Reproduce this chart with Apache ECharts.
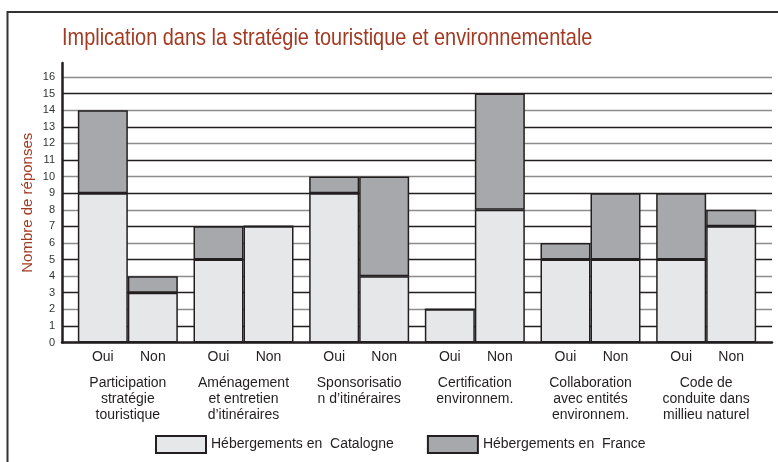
<!DOCTYPE html>
<html>
<head>
<meta charset="utf-8">
<script src="https://cdn.jsdelivr.net/npm/echarts@6/dist/echarts.min.js"></script>
<style>
html,body{margin:0;padding:0;background:#fff;}
#chart{width:778px;height:462px;}
</style>
</head>
<body>
<div id="chart"></div>
<script>
const groups = [
  'Participation\nstratégie\ntouristique',
  'Aménagement\net entretien\nd\u2019itinéraires',
  'Sponsorisatio\nn d\u2019itinéraires',
  'Certification\nenvironnem.',
  'Collaboration\navec entités\nenvironnem.',
  'Code de\nconduite dans\nmillieu naturel'
];
const answers = ['Oui', 'Non'];
const catalogneOui = [9, 5, 9, 2, 5, 5];
const franceOui    = [5, 2, 1, 0, 1, 4];
const catalogneNon = [3, 7, 4, 8, 5, 7];
const franceNon    = [1, 0, 6, 7, 4, 1];
const yTicks = [0, 16, 1];
const nameCat = 'Hébergements en  Catalogne';
const nameFr = 'Hébergements en  France';
const titleText = 'Implication dans la stratégie touristique et environnementale';

const FONT = 'Liberation Sans, Arial, sans-serif';
const RED = '#a33a22';
const DARK = '#231f20';
const colCat = '#e6e7e9';
const colFr = '#a7a8ab';

const chart = echarts.init(document.getElementById('chart'));
const bottom = 119.5;
const barStyle = (c) => ({ color: c, borderColor: DARK, borderWidth: 1.5 });

chart.setOption({
  animation: false,
  backgroundColor: '#fff',
  graphic: [{
    type: 'rect', shape: { x: 7.5, y: 12, width: 900, height: 600 },
    style: { fill: 'none', stroke: '#333', lineWidth: 2 }, silent: true
  }, {
    type: 'text', x: 62, y: 26, scaleX: 0.83, silent: true,
    style: { text: titleText, fontFamily: FONT, fontSize: 24, fill: RED, textVerticalAlign: 'top' }
  }],
  legend: {
    data: [nameCat, nameFr],
    left: 150, top: 430, icon: 'rect',
    itemWidth: 50, itemHeight: 17, itemGap: 33,
    textStyle: { fontFamily: FONT, fontSize: 14, color: DARK }
  },
  grid: [
    { left: 62, right: 6, top: 63, bottom: bottom },
    { left: 62, right: 6, top: 77, bottom: bottom },
    { left: 70, right: 14, top: 77, bottom: bottom }
  ],
  xAxis: [
    { gridIndex: 0, type: 'category', data: groups, show: false },
    { gridIndex: 1, type: 'category', data: groups,
      axisLine: { show: true, lineStyle: { color: DARK, width: 2.5 } },
      axisTick: { show: false }, axisLabel: { show: false }, splitLine: { show: false } },
    { gridIndex: 2, type: 'category', data: groups,
      axisLine: { show: false }, axisTick: { show: false }, splitLine: { show: false },
      axisLabel: {
        margin: 8, interval: 0,
        formatter: () => '{a|' + answers[0] + '}{b|' + answers[1] + '}',
        rich: {
          a: { width: 50, align: 'center', fontFamily: FONT, fontSize: 14, color: DARK },
          b: { width: 50, align: 'center', fontFamily: FONT, fontSize: 14, color: DARK }
        }
      } },
    { gridIndex: 2, type: 'category', data: groups, position: 'bottom',
      axisLine: { show: false }, axisTick: { show: false }, splitLine: { show: false },
      axisLabel: { margin: 33, interval: 0, fontFamily: FONT, fontSize: 14, lineHeight: 16, color: DARK } }
  ],
  yAxis: [
    { gridIndex: 0, type: 'value', min: 0, max: 16.84,
      axisLine: { show: true, lineStyle: { color: DARK, width: 2.5 } },
      axisTick: { show: false }, axisLabel: { show: false }, splitLine: { show: false },
      name: 'Nombre de réponses', nameLocation: 'middle', nameGap: 27, nameRotate: 90,
      nameTextStyle: { fontFamily: FONT, fontSize: 15, color: RED } },
    { gridIndex: 1, type: 'value', min: yTicks[0], max: yTicks[1], interval: yTicks[2],
      axisLine: { show: false }, axisTick: { show: false },
      axisLabel: { margin: 7, fontFamily: FONT, fontSize: 11, color: '#333' },
      splitLine: { show: true, lineStyle: { color: ['#8c8c8c', DARK], width: 1.3 } } },
    { gridIndex: 2, type: 'value', min: yTicks[0], max: yTicks[1], show: false, splitLine: { show: false } }
  ],
  series: [
    { name: nameCat, type: 'bar', xAxisIndex: 2, yAxisIndex: 2, stack: 'oui', data: catalogneOui, barWidth: 50, barGap: '0%', itemStyle: barStyle(colCat) },
    { name: nameFr,  type: 'bar', xAxisIndex: 2, yAxisIndex: 2, stack: 'oui', data: franceOui, barWidth: 50, barGap: '0%', itemStyle: barStyle(colFr) },
    { name: nameCat, type: 'bar', xAxisIndex: 2, yAxisIndex: 2, stack: 'non', data: catalogneNon, barWidth: 50, barGap: '0%', itemStyle: barStyle(colCat) },
    { name: nameFr,  type: 'bar', xAxisIndex: 2, yAxisIndex: 2, stack: 'non', data: franceNon, barWidth: 50, barGap: '0%', itemStyle: barStyle(colFr) }
  ]
});
</script>
</body>
</html>
